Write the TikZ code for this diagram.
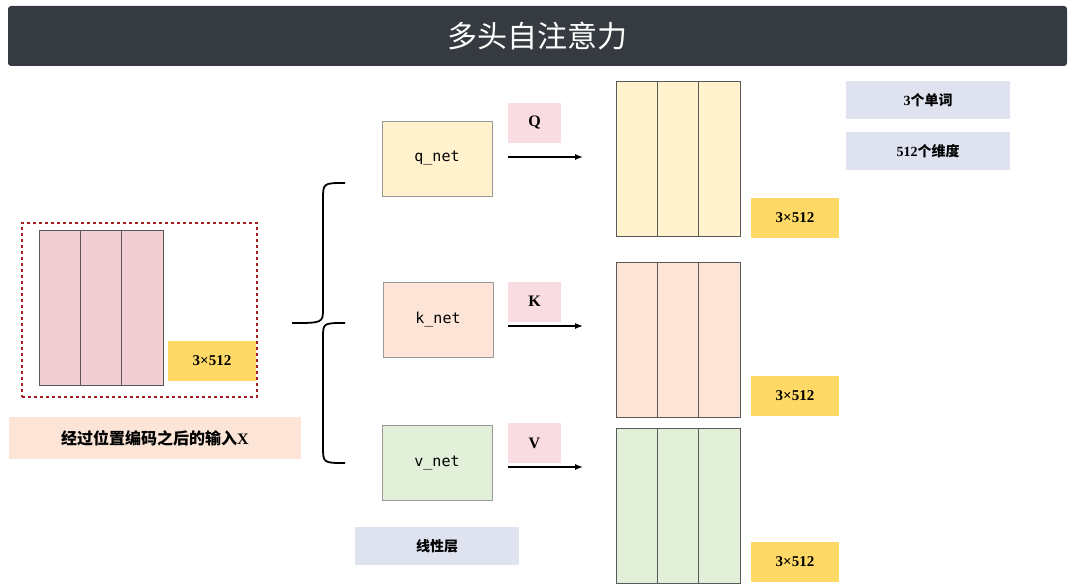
\documentclass[tikz,border=0pt]{standalone}
\usepackage{fontspec}
\setmainfont{Liberation Serif}
\setmonofont{DejaVu Sans Mono}
\newfontfamily\cjk{Noto Sans CJK SC}
\newfontfamily\cjkb{Noto Sans CJK SC}[FakeBold=0]
\definecolor{titlebg}{HTML}{353B40}
\definecolor{pinkm}{HTML}{F2CDD3}
\definecolor{yelm}{HTML}{FFF2CC}
\definecolor{peach}{HTML}{FCE4D6}
\definecolor{greenm}{HTML}{E2F0D9}
\definecolor{lab}{HTML}{FFD966}
\definecolor{qkv}{HTML}{F9DCE1}
\definecolor{bluel}{HTML}{DFE3F0}
\definecolor{dred}{HTML}{A31F24}
\tikzset{
 lbl/.style={fill=lab,minimum width=88pt,minimum height=40pt,font=\bfseries\fontsize{15}{15}\selectfont,inner sep=0},
 netbox/.style={draw=gray!80,minimum width=110pt,minimum height=75pt,font=\ttfamily\fontsize{15}{15}\selectfont},
 qbox/.style={fill=qkv,minimum width=53pt,minimum height=40pt,font=\bfseries\fontsize{16}{16}\selectfont},
 note/.style={fill=bluel,minimum width=164pt,minimum height=38pt,font=\cjk\bfseries\fontsize{14}{14}\selectfont},
 arr/.style={-{Latex[length=8pt,width=6pt]},line width=1.2pt}
}
\usetikzlibrary{arrows.meta}
\newcommand{\mygrid}[3]{% x y fill
 \fill[#3] (#1,#2) rectangle ++(124,-155);
 \draw[gray!70!black,line width=0.5pt] (#1,#2) grid[xstep=41.33,ystep=38.75] ++(124,-155);
 \draw[gray!70!black,line width=0.5pt] (#1,#2) rectangle ++(124,-155);}
\begin{document}
\begin{tikzpicture}[x=1pt,y=-1pt]
\useasboundingbox (0,0) rectangle (1075,588);
\node[fill=titlebg,rounded corners=3pt,minimum width=1059pt,minimum height=60pt,text=white,font=\cjk\fontsize{30}{30}\selectfont] (title) at (537.5,36) {多头自注意力};
% left
\begin{scope}[shift={(39,385)}]
\fill[pinkm] (0,0) rectangle (124,-155);
\draw[gray!70!black,line width=0.5pt,xstep=41.33,ystep=38.75] (0,-155) grid (124,0);
\draw[gray!70!black,line width=0.5pt] (0,0) rectangle (124,-155);
\end{scope}
\node[draw=dred,dashed,line width=1.6pt,minimum width=235pt,minimum height=174pt] (inbox) at (139.5,310) {};
\node[lbl] (l0) at (212,361) {3×512};
\node[fill=peach,minimum width=292pt,minimum height=42pt,font=\cjk\bfseries\fontsize{16}{16}\selectfont] (inlab) at (155,438) {经过位置编码之后的输入\textrm{\textbf{X}}};
% brace
\coordinate (bt) at (345,183);
\coordinate (bb) at (345,463);
\coordinate (bm) at (292,323);
\draw[line width=1.8pt] (bt) .. controls (323,183) and (323,183) .. (323,200) -- (323,308) .. controls (323,323) and (323,323) .. (bm);
\draw[line width=1.8pt] (bb) .. controls (323,463) and (323,463) .. (323,446) -- (323,338) .. controls (323,323) and (323,323) .. (345,323);
% nets
\node[netbox,fill=yelm] (q) at (437,158.5) {q\_net};
\node[netbox,fill=peach] (k) at (438,319.5) {k\_net};
\node[netbox,fill=greenm] (v) at (437,462.5) {v\_net};
\node[qbox] (Q) at (534.5,123) {Q};
\node[qbox] (K) at (534.5,301.5) {K};
\node[qbox] (V) at (534.5,443) {V};
\coordinate (qa) at (508,157); \coordinate (qb) at (583,157);
\coordinate (ka) at (508,326); \coordinate (kb) at (583,326);
\coordinate (va) at (508,467); \coordinate (vb) at (583,467);
\draw[arr] (qa) -- (qb);
\draw[arr] (ka) -- (kb);
\draw[arr] (va) -- (vb);
% right grids
\foreach \yy/\cc in {236/yelm,417/peach,583/greenm}{
\begin{scope}[shift={(616,\yy)}]
\fill[\cc] (0,0) rectangle (124,-155);
\draw[gray!70!black,line width=0.5pt,xstep=41.33,ystep=38.75] (0,-155) grid (124,0);
\draw[gray!70!black,line width=0.5pt] (0,0) rectangle (124,-155);
\end{scope}}
\node[lbl] (l1) at (795,218) {3×512};
\node[lbl] (l2) at (795,396) {3×512};
\node[lbl] (l3) at (795,562) {3×512};
\node[note] (n1) at (928,100) {\textrm{\textbf{3}}个单词};
\node[note] (n2) at (928,151.5) {\textrm{\textbf{512}}个维度};
\node[note] (n3) at (437,546) {线性层};
\end{tikzpicture}
\end{document}
